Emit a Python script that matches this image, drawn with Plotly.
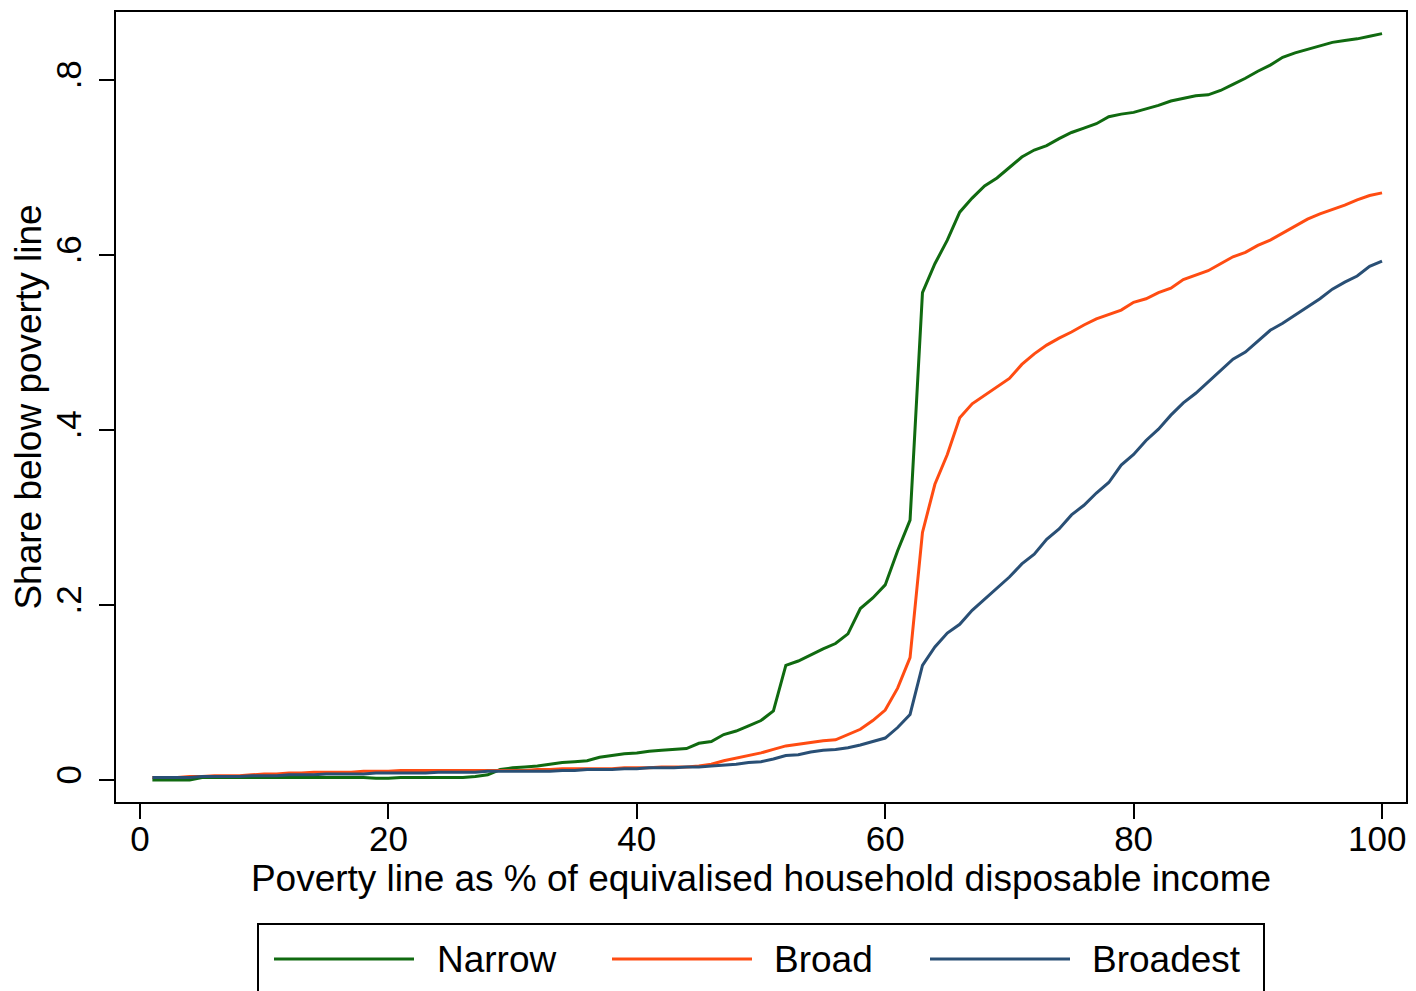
import plotly.graph_objects as go

poverty_line = list(range(1, 101))

narrow = [
    0.000, 0.000, 0.000, 0.000, 0.003, 0.003, 0.003, 0.003, 0.003, 0.003,
    0.003, 0.003, 0.003, 0.003, 0.003, 0.003, 0.003, 0.003, 0.002, 0.002,
    0.003, 0.003, 0.003, 0.003, 0.003, 0.003, 0.004, 0.006, 0.012, 0.014,
    0.015, 0.016, 0.018, 0.020, 0.021, 0.022, 0.026, 0.028, 0.030, 0.031,
    0.033, 0.034, 0.035, 0.036, 0.042, 0.044, 0.052, 0.056, 0.062, 0.068,
    0.079, 0.131, 0.136, 0.143, 0.150, 0.156, 0.167, 0.196, 0.208, 0.223,
    0.262, 0.297, 0.557, 0.590, 0.617, 0.649, 0.665, 0.679, 0.688, 0.700,
    0.712, 0.720, 0.725, 0.733, 0.740, 0.745, 0.750, 0.758, 0.761, 0.763,
    0.767, 0.771, 0.776, 0.779, 0.782, 0.783, 0.788, 0.795, 0.802, 0.810,
    0.817, 0.826, 0.831, 0.835, 0.839, 0.843, 0.845, 0.847, 0.850, 0.853,
]

broad = [
    0.003, 0.003, 0.003, 0.004, 0.004, 0.005, 0.005, 0.005, 0.006, 0.007,
    0.007, 0.008, 0.008, 0.009, 0.009, 0.009, 0.009, 0.010, 0.010, 0.010,
    0.011, 0.011, 0.011, 0.011, 0.011, 0.011, 0.011, 0.011, 0.011, 0.011,
    0.011, 0.012, 0.012, 0.013, 0.013, 0.013, 0.013, 0.013, 0.014, 0.014,
    0.014, 0.015, 0.015, 0.015, 0.016, 0.018, 0.022, 0.025, 0.028, 0.031,
    0.035, 0.039, 0.041, 0.043, 0.045, 0.046, 0.052, 0.058, 0.068, 0.080,
    0.105, 0.140, 0.283, 0.338, 0.372, 0.414, 0.430, 0.440, 0.450, 0.459,
    0.475, 0.487, 0.497, 0.505, 0.512, 0.520, 0.527, 0.532, 0.537, 0.546,
    0.550, 0.557, 0.562, 0.572, 0.577, 0.582, 0.590, 0.598, 0.603, 0.611,
    0.617, 0.625, 0.633, 0.641, 0.647, 0.652, 0.657, 0.663, 0.668, 0.671,
]

broadest = [
    0.003, 0.003, 0.003, 0.003, 0.004, 0.004, 0.004, 0.004, 0.005, 0.005,
    0.005, 0.006, 0.006, 0.006, 0.007, 0.007, 0.007, 0.007, 0.008, 0.008,
    0.008, 0.008, 0.008, 0.009, 0.009, 0.009, 0.009, 0.010, 0.010, 0.010,
    0.010, 0.010, 0.010, 0.011, 0.011, 0.012, 0.012, 0.012, 0.013, 0.013,
    0.014, 0.014, 0.014, 0.015, 0.015, 0.016, 0.017, 0.018, 0.020, 0.021,
    0.024, 0.028, 0.029, 0.032, 0.034, 0.035, 0.037, 0.040, 0.044, 0.048,
    0.060, 0.075, 0.131, 0.152, 0.168, 0.178, 0.194, 0.207, 0.220, 0.232,
    0.247, 0.258, 0.275, 0.287, 0.303, 0.314, 0.328, 0.340, 0.360, 0.372,
    0.388, 0.401, 0.417, 0.431, 0.442, 0.455, 0.468, 0.481, 0.489, 0.501,
    0.514, 0.522, 0.531, 0.540, 0.550, 0.561, 0.569, 0.576, 0.587, 0.593,
]

series_names = ["Narrow", "Broad", "Broadest"]
series_colors = ["#106a10", "#ff4c12", "#294f75"]
x_ticks = [0, 20, 40, 60, 80, 100]
x_tick_labels = ["0", "20", "40", "60", "80", "100"]
y_ticks = [0, 0.2, 0.4, 0.6, 0.8]
y_tick_labels = ["0", ".2", ".4", ".6", ".8"]

FONT = "Liberation Sans, Arial, sans-serif"

fig = go.Figure()
for name, vals, col in zip(series_names, [narrow, broad, broadest], series_colors):
    fig.add_trace(go.Scatter(x=poverty_line, y=vals, mode="lines", name=name,
                             line=dict(color=col, width=3), showlegend=False))

OFF = 8  # page body margin
W, H = 1408, 991
L, R, T, B = 108, 10, 4, 197
pw, ph = W - L - R, H - T - B

def px(xp):
    return (xp - OFF - L) / pw

def py(yp):
    return (H - B - (yp - OFF)) / ph

# last label nudged left (trailing no-break space) so its digits stay in view
x_tick_text = x_tick_labels[:-1] + [x_tick_labels[-1] + "\u00a0"]

fig.update_layout(
    width=W, height=H,
    margin=dict(l=L, r=R, t=T, b=B, autoexpand=False),
    paper_bgcolor="white", plot_bgcolor="white",
    font=dict(family=FONT, color="black", size=35),
    xaxis=dict(range=[-1.93, 101.93], tickvals=x_ticks, ticktext=x_tick_text,
               ticks="outside", ticklen=15,
               tickwidth=2, tickcolor="black", showline=True, linewidth=2,
               linecolor="black", mirror=True, showgrid=False, zeroline=False,
               tickfont=dict(size=35), ticklabelstandoff=-10,
               ticklabeloverflow="allow", automargin=False,
               title=dict(text="Poverty line as % of equivalised household disposable income",
                          font=dict(size=37), standoff=0)),
    yaxis=dict(range=[-0.0251, 0.8777], tickvals=y_ticks, ticktext=y_tick_labels,
               ticks="outside", ticklen=15, tickwidth=2, tickcolor="black",
               showline=True, linewidth=2, linecolor="black", mirror=True,
               showgrid=False, zeroline=False, tickangle=-90,
               tickfont=dict(size=35), ticklabelstandoff=4,
               ticklabeloverflow="allow", automargin=False,
               title=dict(text="Share below poverty line", font=dict(size=37), standoff=10)),
)

# legend box
shapes = [dict(type="rect", xref="paper", yref="paper",
               x0=px(258), x1=px(1264), y0=py(924), y1=py(1010),
               line=dict(color="black", width=2), fillcolor="white", layer="above")]
annotations = []
leg_line_x = [274, 612, 930]
leg_text_x = [435, 772, 1090]
for name, col, lx, tx in zip(series_names, series_colors, leg_line_x, leg_text_x):
    shapes.append(dict(type="line", xref="paper", yref="paper",
                       x0=px(lx), x1=px(lx + 140), y0=py(959), y1=py(959),
                       line=dict(color=col, width=3)))
    annotations.append(dict(text=name, xref="paper", yref="paper", x=px(tx), y=py(959),
                            xanchor="left", yanchor="middle", showarrow=False,
                            font=dict(size=37, family=FONT, color="black")))
fig.update_layout(shapes=shapes, annotations=annotations)

fig.write_html("out.html")
